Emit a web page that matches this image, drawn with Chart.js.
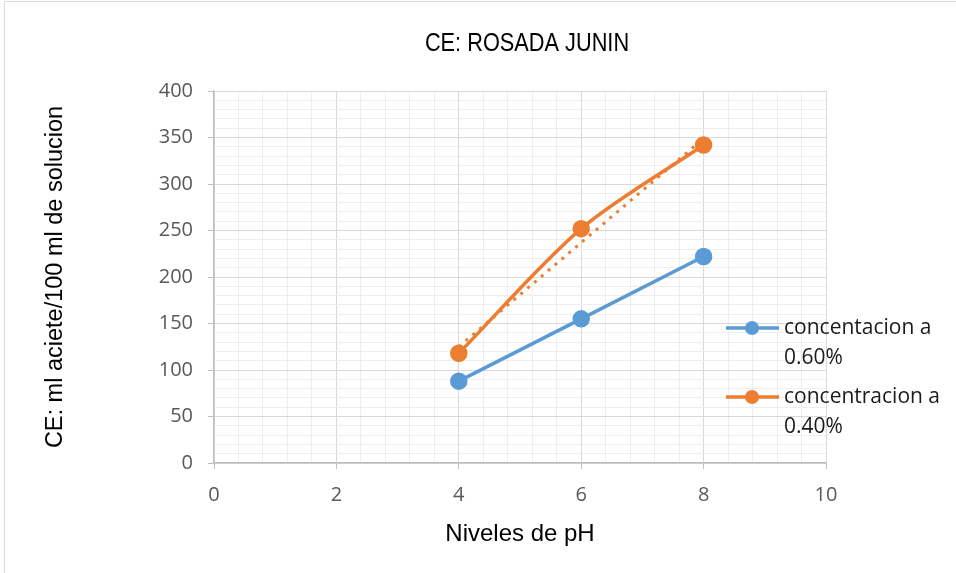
<!DOCTYPE html>
<html>
<head>
<meta charset="utf-8">
<script src="https://cdn.jsdelivr.net/npm/chart.js@4.4.1/dist/chart.umd.min.js"></script>
<style>
    html, body { margin: 0; padding: 0; background: #ffffff; }
    #wrap { position: relative; width: 956px; height: 573px; overflow: hidden; }
    #frame { position: absolute; left: 4px; top: 1px; width: 970px; height: 590px; border: 1px solid #d9d9d9; }
    #chart { position: absolute; left: 0; top: 0; }
</style>
</head>
<body>
<div id="wrap">
    <div id="frame"></div>
    <canvas id="chart" width="956" height="573"></canvas>
</div>
<script>
// values
const phLevels = [4, 6, 8];
const conc060 = [88, 155, 222];
const conc040 = [118, 252, 342];
// dotted linear trend of the 0.40% series (end points)
const trendX = [4, 8];
const trendY = [125, 349];
const seriesLabels = [['concentacion a', '0.60%'], ['concentracion a', '0.40%']];
const chartTitle = 'CE: ROSADA JUNIN';
const xTicks = [0, 2, 4, 6, 8, 10];
const yTicks = [0, 50, 100, 150, 200, 250, 300, 350, 400];

const blue = '#5b9bd5';
const orange = '#ed7d31';
const majorGrid = '#d9d9d9';
const minorGrid = '#eeeeee';

function toPoints(xs, ys) {
    return xs.map((x, i) => ({ x: x, y: ys[i] }));
}

// title (narrow look) and legend drawn like the spreadsheet ones
const sideLegend = {
    id: 'sideLegend',
    afterDraw(chart) {
        const ctx = chart.ctx;
        ctx.save();
        // chart title, squeezed horizontally to mimic a narrow face
        ctx.translate(527, 44);
        ctx.scale(0.87, 1);
        ctx.fillStyle = '#000000';
        ctx.font = '25px "Liberation Sans", sans-serif';
        ctx.textAlign = 'center';
        ctx.textBaseline = 'middle';
        ctx.fillText(chartTitle, 0, 0);
        ctx.restore();

        const rows = [328, 397];
        ctx.save();
        chart.data.datasets.filter(d => d.inLegend).forEach((ds, i) => {
            const y = rows[i];
            ctx.strokeStyle = ds.borderColor;
            ctx.fillStyle = ds.borderColor;
            ctx.lineWidth = 3.5;
            ctx.beginPath();
            ctx.moveTo(726, y);
            ctx.lineTo(779, y);
            ctx.stroke();
            ctx.beginPath();
            ctx.arc(752, y, 7, 0, Math.PI * 2);
            ctx.fill();
            ctx.fillStyle = '#1a1a1a';
            ctx.font = '21px "Open Sans"';
            ctx.textBaseline = 'middle';
            ctx.textAlign = 'left';
            ds.label.forEach((line, j) => ctx.fillText(line, 784, y + j * 30));
        });
        ctx.restore();
    }
};

const ctx = document.getElementById('chart').getContext('2d');
const chart = new Chart(ctx, {
    type: 'line',
    data: {
        datasets: [
            {
                label: seriesLabels[1],
                inLegend: false,
                data: toPoints(trendX, trendY),
                borderColor: orange,
                borderWidth: 3,
                borderDash: [3, 6],
                pointRadius: 0,
                fill: false,
                order: 0
            },
            {
                label: seriesLabels[0],
                inLegend: true,
                data: toPoints(phLevels, conc060),
                borderColor: blue,
                backgroundColor: blue,
                borderWidth: 3.5,
                pointRadius: 7,
                pointBackgroundColor: blue,
                pointBorderColor: blue,
                tension: 0,
                order: 2
            },
            {
                label: seriesLabels[1],
                inLegend: true,
                data: toPoints(phLevels, conc040),
                borderColor: orange,
                backgroundColor: orange,
                borderWidth: 3.5,
                pointRadius: 7,
                pointBackgroundColor: orange,
                pointBorderColor: orange,
                tension: 0.3,
                order: 1
            }
        ]
    },
    options: {
        responsive: false,
        animation: false,
        layout: { padding: { left: 0, right: 130, top: 91, bottom: 0 } },
        plugins: {
            legend: { display: false },
            tooltip: { enabled: false },
            title: { display: false }
        },
        scales: {
            x: {
                type: 'linear',
                min: 0,
                max: 10,
                afterFit: s => { s.height = 110; },
                afterBuildTicks: s => {
                    const t = [];
                    for (let i = 0; i <= 25; i++) t.push({ value: Math.round(i * 4) / 10 });
                    s.ticks = t;
                },
                grid: {
                    color: c => (c.tick && xTicks.includes(c.tick.value)) ? majorGrid : minorGrid,
                    tickColor: c => (c.tick && xTicks.includes(c.tick.value)) ? '#bfbfbf' : 'rgba(0,0,0,0)',
                    tickLength: 6,
                    lineWidth: 1
                },
                border: { color: '#bfbfbf', width: 1.5 },
                ticks: {
                    autoSkip: false,
                    maxRotation: 0,
                    padding: 14,
                    color: '#595959',
                    font: { family: '"Open Sans"', size: 20 },
                    callback: v => xTicks.includes(v) ? String(v) : ''
                },
                title: {
                    display: true,
                    text: 'Niveles de pH',
                    color: '#000000',
                    font: { family: '"Liberation Sans", sans-serif', size: 24 },
                    padding: { top: 0, bottom: 24 }
                }
            },
            y: {
                type: 'linear',
                min: 0,
                max: 400,
                afterFit: s => { s.width = 214; },
                afterBuildTicks: s => {
                    const t = [];
                    for (let v = 0; v <= 400; v += 10) t.push({ value: v });
                    s.ticks = t;
                },
                grid: {
                    color: c => (c.tick && yTicks.includes(c.tick.value)) ? majorGrid : minorGrid,
                    tickColor: c => (c.tick && yTicks.includes(c.tick.value)) ? '#bfbfbf' : 'rgba(0,0,0,0)',
                    tickLength: 6,
                    lineWidth: 1
                },
                border: { color: '#bfbfbf', width: 1.5 },
                ticks: {
                    autoSkip: false,
                    padding: 15,
                    color: '#595959',
                    font: { family: '"Open Sans"', size: 20 },
                    callback: v => yTicks.includes(v) ? String(v) : ''
                },
                title: {
                    display: true,
                    text: 'CE: ml aciete/100 ml de solucion',
                    color: '#000000',
                    font: { family: '"Liberation Sans", sans-serif', size: 23.5 },
                    padding: { top: 41, bottom: 0 }
                }
            }
        }
    },
    plugins: [sideLegend]
});
</script>
</body>
</html>
